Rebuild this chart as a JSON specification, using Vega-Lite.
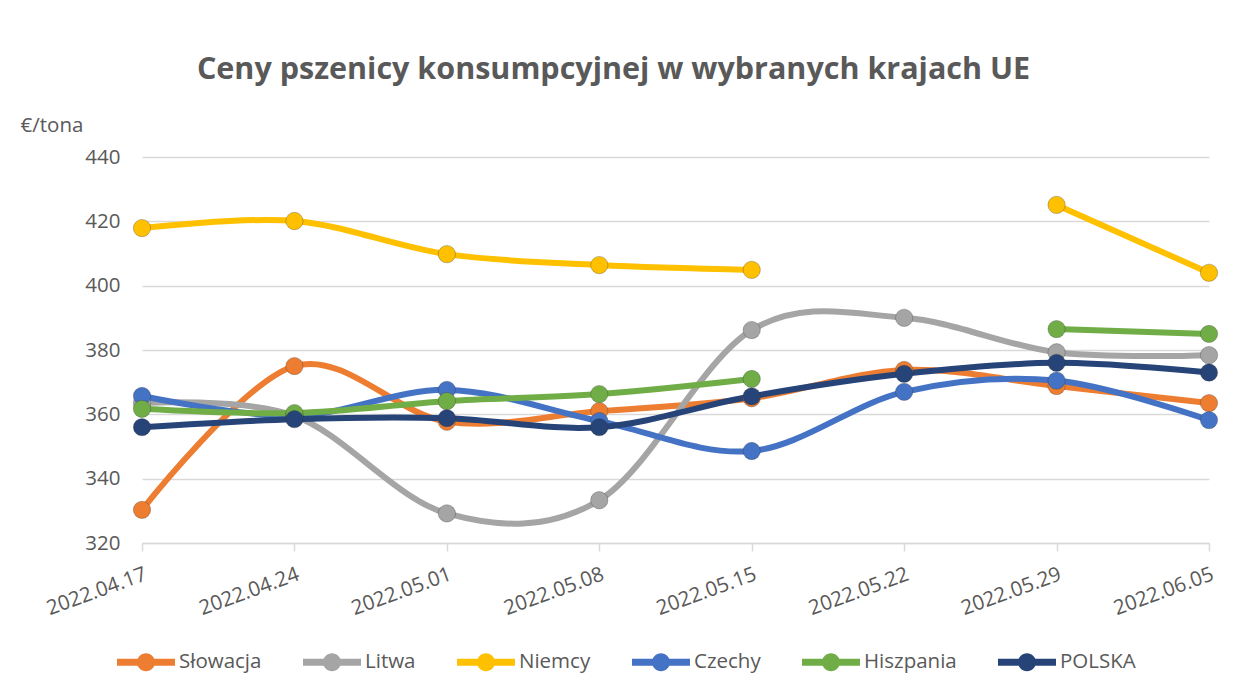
{
  "$schema": "https://vega.github.io/schema/vega-lite/v6.json",
  "autosize": "none",
  "width": 1067,
  "height": 386,
  "padding": {"left": 142, "top": 157, "right": 40, "bottom": 146},
  "background": "white",
  "title": {
    "text": "Ceny pszenicy konsumpcyjnej w wybranych krajach UE",
    "fontSize": 30.5,
    "font": "Open Sans",
    "fontWeight": "bold",
    "color": "#595959",
    "anchor": "middle",
    "dx": -62,
    "offset": 30
  },
  "data": {
    "values": [
      {"date": "2022.04.17", "country": "Słowacja", "value": 330.3},
      {"date": "2022.04.24", "country": "Słowacja", "value": 375},
      {"date": "2022.05.01", "country": "Słowacja", "value": 357.7},
      {"date": "2022.05.08", "country": "Słowacja", "value": 361},
      {"date": "2022.05.15", "country": "Słowacja", "value": 365},
      {"date": "2022.05.22", "country": "Słowacja", "value": 373.8},
      {"date": "2022.05.29", "country": "Słowacja", "value": 368.8},
      {"date": "2022.06.05", "country": "Słowacja", "value": 363.5},
      {"date": "2022.04.17", "country": "Litwa", "value": 363.5},
      {"date": "2022.04.24", "country": "Litwa", "value": 359.5},
      {"date": "2022.05.01", "country": "Litwa", "value": 329.2},
      {"date": "2022.05.08", "country": "Litwa", "value": 333.3},
      {"date": "2022.05.15", "country": "Litwa", "value": 386.2},
      {"date": "2022.05.22", "country": "Litwa", "value": 390},
      {"date": "2022.05.29", "country": "Litwa", "value": 379.3},
      {"date": "2022.06.05", "country": "Litwa", "value": 378.4},
      {"date": "2022.04.17", "country": "Niemcy", "value": 417.9},
      {"date": "2022.04.24", "country": "Niemcy", "value": 420.1},
      {"date": "2022.05.01", "country": "Niemcy", "value": 409.8},
      {"date": "2022.05.08", "country": "Niemcy", "value": 406.4},
      {"date": "2022.05.15", "country": "Niemcy", "value": 404.9},
      {"date": "2022.05.22", "country": "Niemcy", "value": null},
      {"date": "2022.05.29", "country": "Niemcy", "value": 425.1},
      {"date": "2022.06.05", "country": "Niemcy", "value": 404},
      {"date": "2022.04.17", "country": "Czechy", "value": 365.7},
      {"date": "2022.04.24", "country": "Czechy", "value": 359.5},
      {"date": "2022.05.01", "country": "Czechy", "value": 367.6},
      {"date": "2022.05.08", "country": "Czechy", "value": 357.9},
      {"date": "2022.05.15", "country": "Czechy", "value": 348.6},
      {"date": "2022.05.22", "country": "Czechy", "value": 367},
      {"date": "2022.05.29", "country": "Czechy", "value": 370.5},
      {"date": "2022.06.05", "country": "Czechy", "value": 358.2},
      {"date": "2022.04.17", "country": "Hiszpania", "value": 361.7},
      {"date": "2022.04.24", "country": "Hiszpania", "value": 360.4},
      {"date": "2022.05.01", "country": "Hiszpania", "value": 364.1},
      {"date": "2022.05.08", "country": "Hiszpania", "value": 366.3},
      {"date": "2022.05.15", "country": "Hiszpania", "value": 371},
      {"date": "2022.05.22", "country": "Hiszpania", "value": null},
      {"date": "2022.05.29", "country": "Hiszpania", "value": 386.5},
      {"date": "2022.06.05", "country": "Hiszpania", "value": 385},
      {"date": "2022.04.17", "country": "POLSKA", "value": 356},
      {"date": "2022.04.24", "country": "POLSKA", "value": 358.5},
      {"date": "2022.05.01", "country": "POLSKA", "value": 358.8},
      {"date": "2022.05.08", "country": "POLSKA", "value": 356},
      {"date": "2022.05.15", "country": "POLSKA", "value": 365.6},
      {"date": "2022.05.22", "country": "POLSKA", "value": 372.6},
      {"date": "2022.05.29", "country": "POLSKA", "value": 376},
      {"date": "2022.06.05", "country": "POLSKA", "value": 373}
    ]
  },
  "encoding": {
    "x": {
      "field": "date",
      "type": "ordinal",
      "sort": null,
      "scale": {"type": "point", "padding": 0},
      "axis": {
        "title": null,
        "labelAngle": -20,
        "labelAlign": "right",
        "labelBaseline": "top",
        "labelFont": "Open Sans",
        "labelFontSize": 20.5,
        "labelColor": "#595959",
        "labelPadding": 13,
        "domainColor": "#d9d9d9",
        "domainWidth": 1.5,
        "tickColor": "#d9d9d9",
        "tickWidth": 1.5,
        "tickSize": 8,
        "grid": false
      }
    },
    "y": {
      "field": "value",
      "type": "quantitative",
      "scale": {"domain": [320, 440], "nice": false, "zero": false},
      "axis": {
        "values": [320, 340, 360, 380, 400, 420, 440],
        "title": "€/tona",
        "titleAngle": 0,
        "titleX": -122,
        "titleY": -32,
        "titleAlign": "left",
        "titleBaseline": "middle",
        "titleFont": "Open Sans",
        "titleFontSize": 20.5,
        "titleFontWeight": "normal",
        "titleColor": "#595959",
        "labelFont": "Open Sans",
        "labelFontSize": 20.5,
        "labelColor": "#595959",
        "labelPadding": 22,
        "domain": false,
        "ticks": false,
        "grid": true,
        "gridColor": "#d9d9d9",
        "gridWidth": 1.5
      }
    },
    "color": {
      "field": "country",
      "type": "nominal",
      "sort": ["Słowacja", "Litwa", "Niemcy", "Czechy", "Hiszpania", "POLSKA"],
      "scale": {
        "domain": ["Słowacja", "Litwa", "Niemcy", "Czechy", "Hiszpania", "POLSKA"],
        "range": ["#ED7D31", "#A5A5A5", "#FFC000", "#4472C4", "#70AD47", "#264478"]
      },
      "legend": {
        "title": null,
        "orient": "none",
        "direction": "horizontal",
        "columns": 6,
        "legendX": -25,
        "legendY": 476,
        "columnPadding": 41,
        "labelFont": "Open Sans",
        "labelFontSize": 20.5,
        "labelColor": "#595959",
        "labelOffset": 4,
        "symbolType": "M-1,-0.12L1,-0.12L1,0.12L-1,0.12Z M0.31,0A0.31,0.31,0,1,1,-0.31,0A0.31,0.31,0,1,1,0.31,0Z",
        "symbolSize": 3364,
        "symbolStrokeWidth": 0,
        "encode": {
          "symbols": {
            "update": {
              "fill": {"scale": "color", "field": "value"},
              "stroke": {"value": "transparent"},
              "opacity": {"value": 1}
            }
          }
        }
      }
    }
  },
  "layer": [
    {
      "mark": {"type": "line", "interpolate": "cardinal", "strokeWidth": 6, "strokeCap": "round"}
    },
    {
      "mark": {"type": "point", "filled": true, "size": 300, "opacity": 1, "stroke": "#333333", "strokeWidth": 0.6, "strokeOpacity": 0.5}
    }
  ],
  "config": {"view": {"stroke": null}}
}
